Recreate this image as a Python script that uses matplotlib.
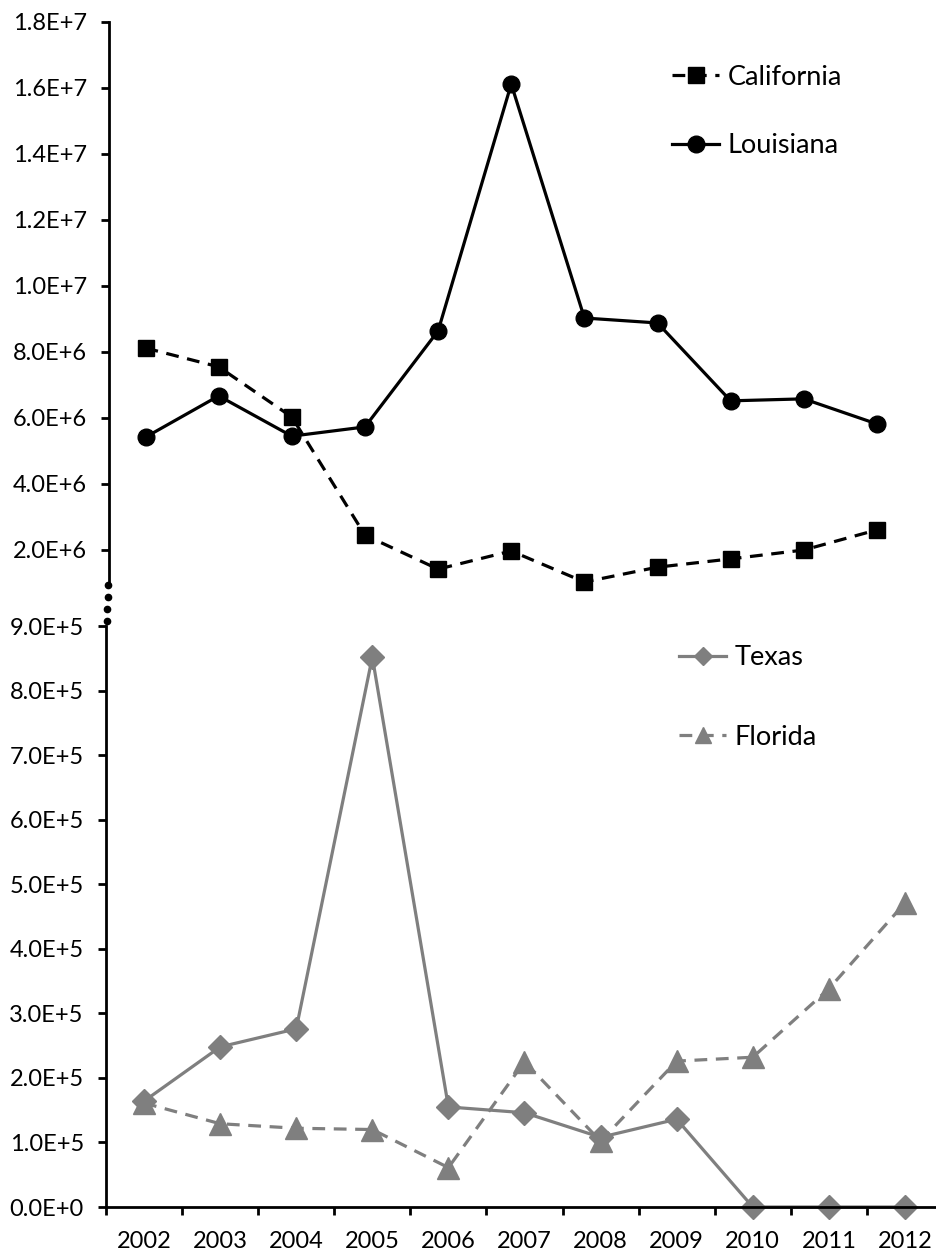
import numpy as np
import matplotlib
matplotlib.use("Agg")
import matplotlib.pyplot as plt
from matplotlib.ticker import FuncFormatter, FixedLocator
from matplotlib.lines import Line2D

plt.rcParams['font.family'] = ['Lato', 'DejaVu Sans']

years = ["2002", "2003", "2004", "2005", "2006", "2007",
         "2008", "2009", "2010", "2011", "2012"]

# upper panel (large states)
california = [8.12e6, 7.55e6, 6.03e6, 2.45e6, 1.42e6, 1.97e6,
              1.03e6, 1.48e6, 1.73e6, 2.00e6, 2.61e6]
louisiana = [5.42e6, 6.67e6, 5.45e6, 5.73e6, 8.64e6, 1.612e7,
             9.03e6, 8.88e6, 6.52e6, 6.58e6, 5.82e6]

# lower panel (small states)
texas = [1.64e5, 2.48e5, 2.76e5, 8.52e5, 1.55e5, 1.46e5,
         1.08e5, 1.36e5, 0, 0, 0]
florida = [1.61e5, 1.29e5, 1.22e5, 1.20e5, 0.61e5, 2.25e5,
           1.02e5, 2.26e5, 2.32e5, 3.38e5, 4.71e5]

upper_ticks = np.arange(2e6, 1.81e7, 2e6)
lower_ticks = np.arange(0, 9.01e5, 1e5)

GRAY = "#7f7f7f"
W, H = 937, 1250


def sci_label(v, pos):
    if abs(v) < 1e-9:
        return "0.0E+0"
    e = int(np.floor(np.log10(abs(v)) + 1e-9))
    m = v / 10 ** e
    return f"{m:.1f}E+{e}"


def fig_rect(left, top, right, bottom):
    """pixel box -> figure fraction rect"""
    return [left / W, 1 - bottom / H, (right - left) / W, (bottom - top) / H]


fig = plt.figure(figsize=(9.37, 12.5), dpi=100)
ax_top = fig.add_axes(fig_rect(109, 22, 913.5, 583))
ax_bot = fig.add_axes(fig_rect(106, 626, 943, 1207))

x = np.arange(len(years))
tick_fs = 17
legend_fs = 19.5

# --- upper panel
ax_top.plot(x, california, color="black", lw=2.3, linestyle=(0, (4, 2.7)),
            marker="s", ms=11.5, label="California", clip_on=False)
ax_top.plot(x, louisiana, color="black", lw=2.3, marker="o", ms=12,
            label="Louisiana", clip_on=False)
ax_top.set_xlim(-0.5, len(years) - 0.5)
ax_top.set_ylim(1.0e6, 1.8e7)
ax_top.yaxis.set_major_locator(FixedLocator(upper_ticks))
ax_top.yaxis.set_major_formatter(FuncFormatter(sci_label))
for s in ["top", "right", "bottom"]:
    ax_top.spines[s].set_visible(False)
ax_top.spines["left"].set_linewidth(2)
ax_top.xaxis.set_visible(False)
ax_top.tick_params(axis="y", direction="out", length=6, width=2,
                   pad=10, labelsize=tick_fs)

ax_top.legend(loc="center left", bbox_to_anchor=(672 / W, 1 - 111.5 / H),
              bbox_transform=fig.transFigure, frameon=False,
              fontsize=legend_fs, borderpad=0, borderaxespad=0,
              handlelength=1.75, handletextpad=0.3, labelspacing=1.6)

# --- lower panel
ax_bot.plot(x, texas, color=GRAY, lw=2.3, marker="D", ms=12.5,
            label="Texas", clip_on=False)
ax_bot.plot(x, florida, color=GRAY, lw=2.3, linestyle=(0, (4, 2.7)),
            marker="^", ms=16, label="Florida", clip_on=False)
ax_bot.set_xlim(-0.5, len(years) - 0.5)
ax_bot.set_ylim(0, 9.0e5)
ax_bot.yaxis.set_major_locator(FixedLocator(lower_ticks))
ax_bot.yaxis.set_major_formatter(FuncFormatter(sci_label))
ax_bot.set_xticks(x)
ax_bot.set_xticklabels(years)
ax_bot.set_xticks(np.arange(-0.5, len(years)), minor=True)
for s in ["top", "right"]:
    ax_bot.spines[s].set_visible(False)
for s in ["left", "bottom"]:
    ax_bot.spines[s].set_linewidth(2)
ax_bot.tick_params(axis="y", direction="out", length=6, width=2,
                   pad=10, labelsize=tick_fs)
ax_bot.tick_params(axis="x", which="major", length=0, pad=17,
                   labelsize=tick_fs)
ax_bot.tick_params(axis="x", which="minor", direction="out", length=6,
                   width=2)

ax_bot.legend(loc="center left", bbox_to_anchor=(679 / W, 1 - 697.5 / H),
              bbox_transform=fig.transFigure, frameon=False,
              fontsize=legend_fs, borderpad=0, borderaxespad=0,
              handlelength=1.75, handletextpad=0.3, labelspacing=2.0,
              markerscale=0.75)

# dotted break between the two panels
gap_y = np.linspace(1 - 585 / H, 1 - 621 / H, 4)
gap_x = np.linspace(108 / W, 107 / W, 4)
fig.add_artist(Line2D(gap_x, gap_y, transform=fig.transFigure,
                      linestyle="none", marker="o", ms=4.5, color="black"))

fig.savefig("out.png", dpi=100)
